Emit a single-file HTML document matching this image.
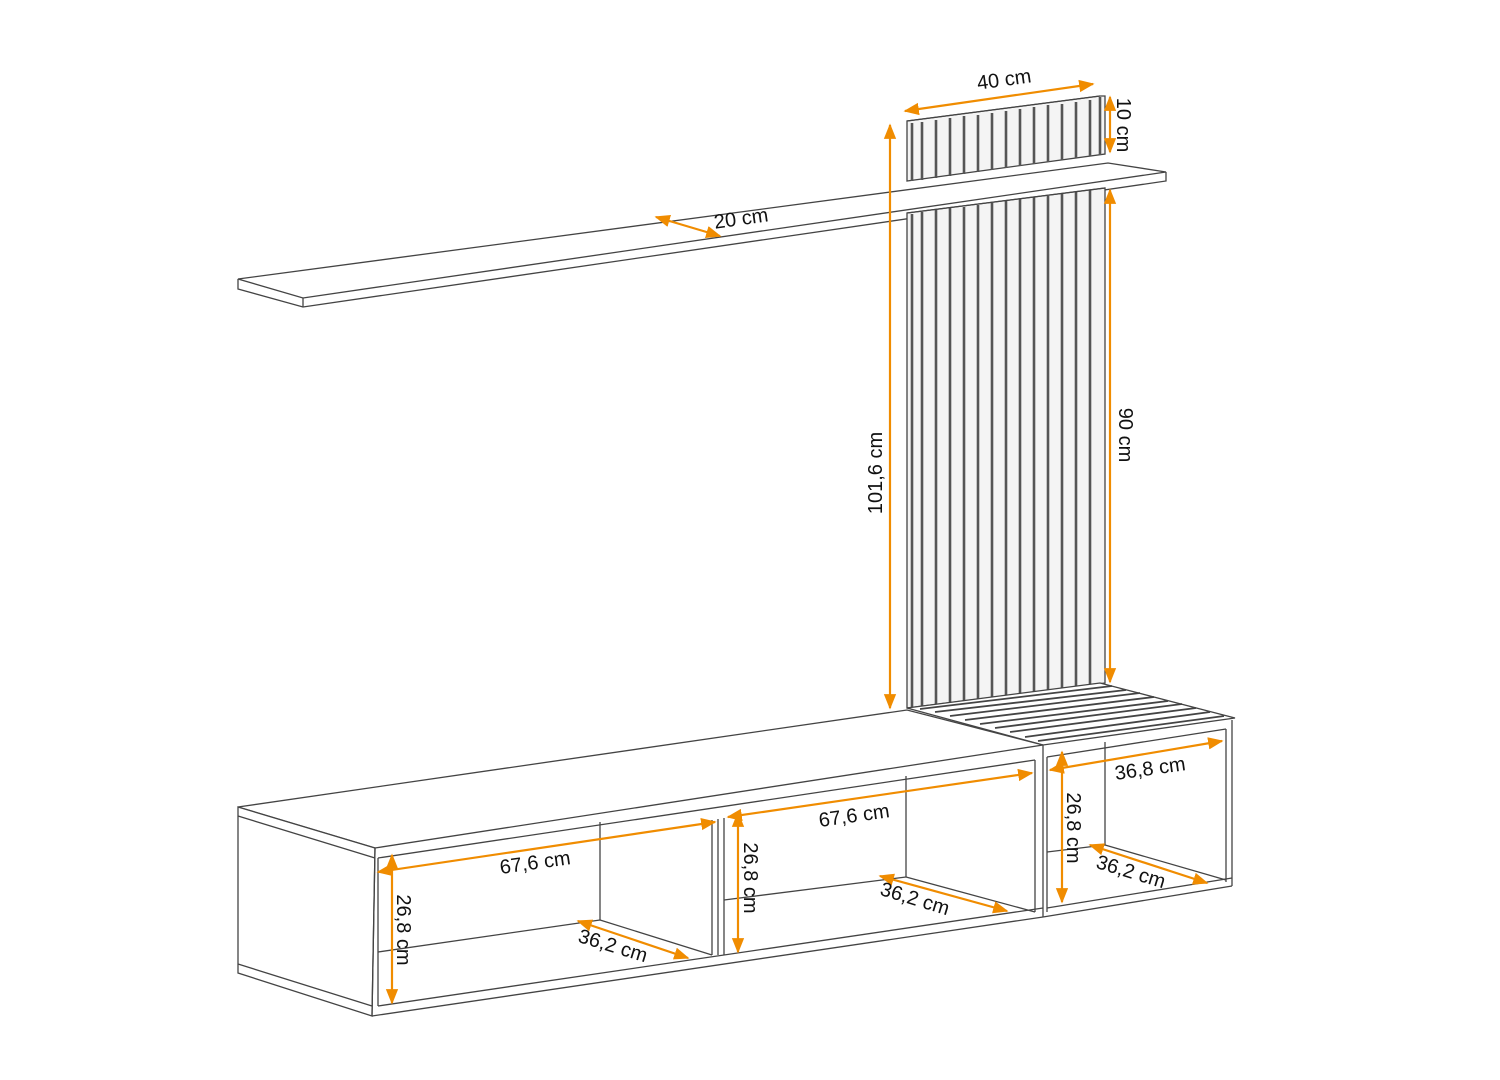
<!DOCTYPE html>
<html><head><meta charset="utf-8"><style>
html,body{margin:0;padding:0;background:#fff}
svg{display:block}
text{font-family:"Liberation Sans",sans-serif;font-size:20px;fill:#111}
</style></head><body>
<svg width="1500" height="1080" viewBox="0 0 1500 1080" xmlns="http://www.w3.org/2000/svg">
<defs>
<marker id="a" viewBox="0 0 10 10" refX="9" refY="5" markerWidth="7" markerHeight="7" orient="auto-start-reverse"><path d="M0,1 L10,5 L0,9 z" fill="#f08c00"/></marker>
</defs>
<g fill="none" stroke="#444" stroke-width="1.3">
<polygon points="238,279 1108,163 1166,172 303,298" fill="#fff"/>
<polyline points="238,279 238,289 303,307 1166,181 1166,172"/>
<line x1="303" y1="298" x2="303" y2="307"/>
<polygon points="907,121 1100,96 1105,96 1105,154 907,181" fill="#f4f4f4"/>
<polygon points="907,213 1105,188 1105,683 907,708" fill="#f4f4f4"/>
</g>
<g stroke="#555" stroke-width="2.6">
<line x1="912" y1="123" x2="912" y2="181"/><line x1="922" y1="122" x2="922" y2="180"/><line x1="936" y1="120" x2="936" y2="178"/><line x1="950" y1="118" x2="950" y2="176"/><line x1="964" y1="116" x2="964" y2="174"/><line x1="978" y1="115" x2="978" y2="172"/><line x1="992" y1="113" x2="992" y2="170"/><line x1="1006" y1="111" x2="1006" y2="168"/><line x1="1020" y1="109" x2="1020" y2="166"/><line x1="1034" y1="107" x2="1034" y2="164"/><line x1="1048" y1="105" x2="1048" y2="162"/><line x1="1062" y1="104" x2="1062" y2="160"/><line x1="1076" y1="102" x2="1076" y2="158"/><line x1="1090" y1="100" x2="1090" y2="156"/><line x1="1100" y1="97" x2="1100" y2="155"/>
<line x1="912" y1="214" x2="912" y2="708"/><line x1="922" y1="212" x2="922" y2="707"/><line x1="936" y1="210" x2="936" y2="705"/><line x1="950" y1="208" x2="950" y2="703"/><line x1="964" y1="207" x2="964" y2="701"/><line x1="978" y1="205" x2="978" y2="700"/><line x1="992" y1="203" x2="992" y2="698"/><line x1="1006" y1="201" x2="1006" y2="696"/><line x1="1020" y1="199" x2="1020" y2="694"/><line x1="1034" y1="197" x2="1034" y2="692"/><line x1="1048" y1="196" x2="1048" y2="690"/><line x1="1062" y1="194" x2="1062" y2="689"/><line x1="1076" y1="192" x2="1076" y2="687"/><line x1="1090" y1="190" x2="1090" y2="685"/>
</g>
<g fill="none" stroke="#444" stroke-width="1.3">
<line x1="907" y1="121" x2="1100" y2="96"/>
<line x1="907" y1="213" x2="1105" y2="188"/>
<polygon points="907,708 1100,683 1235,718 1043,745" fill="#fff"/>
<g stroke="#444" stroke-width="1.8">
<line x1="920" y1="709" x2="1112" y2="686"/><line x1="935" y1="712" x2="1126" y2="690"/><line x1="950" y1="716" x2="1140" y2="693"/><line x1="965" y1="720" x2="1154" y2="697"/><line x1="980" y1="724" x2="1168" y2="701"/><line x1="995" y1="728" x2="1182" y2="704"/><line x1="1010" y1="732" x2="1196" y2="708"/><line x1="1025" y1="737" x2="1210" y2="712"/><line x1="1038" y1="741" x2="1224" y2="716"/>
</g>
<polygon points="238,807 907,710 1043,745 375,848" fill="#fff"/>
<polygon points="238,807 238,973 372,1016 375,848" fill="#fff"/>
<line x1="238" y1="816" x2="375" y2="858"/>
<line x1="238" y1="964" x2="372" y2="1006"/>
<line x1="378" y1="858" x2="1035" y2="760"/>
<line x1="375" y1="848" x2="372" y2="1016"/>
<line x1="372" y1="1016" x2="1043" y2="917"/>
<line x1="378" y1="1006" x2="1043" y2="908"/>
<line x1="378" y1="858" x2="378" y2="1006"/>
<line x1="600" y1="822" x2="600" y2="920"/>
<line x1="378" y1="952" x2="600" y2="920"/>
<line x1="600" y1="920" x2="712" y2="955"/>
<line x1="712" y1="820" x2="712" y2="955"/><line x1="718" y1="819" x2="718" y2="955"/><line x1="724" y1="818" x2="724" y2="955"/>
<line x1="906" y1="776" x2="906" y2="877"/>
<line x1="724" y1="900" x2="906" y2="877"/>
<line x1="906" y1="877" x2="1035" y2="912"/>
<line x1="1035" y1="760" x2="1035" y2="912"/>
<line x1="1043" y1="745" x2="1043" y2="917"/>
<line x1="1047" y1="757" x2="1047" y2="912"/>
<line x1="1047" y1="757" x2="1226" y2="729"/>
<line x1="1226" y1="729" x2="1226" y2="882"/>
<line x1="1232" y1="720" x2="1232" y2="886"/>
<line x1="1043" y1="917" x2="1232" y2="886"/>
<line x1="1047" y1="908" x2="1232" y2="878"/>
<line x1="1105" y1="742" x2="1105" y2="845"/>
<line x1="1047" y1="852" x2="1105" y2="845"/>
<line x1="1105" y1="845" x2="1226" y2="880"/>
</g>
<g stroke="#f08c00" stroke-width="2.2" fill="none" marker-start="url(#a)" marker-end="url(#a)">
<line x1="905" y1="111" x2="1093" y2="84"/>
<line x1="1110" y1="97" x2="1110" y2="152"/>
<line x1="656" y1="217" x2="720" y2="236"/>
<line x1="890" y1="125" x2="890" y2="708"/>
<line x1="1110" y1="190" x2="1110" y2="682"/>
<line x1="378" y1="872" x2="715" y2="822"/>
<line x1="392" y1="855" x2="392" y2="1003"/>
<line x1="578" y1="921" x2="688" y2="958"/>
<line x1="728" y1="817" x2="1032" y2="773"/>
<line x1="738" y1="813" x2="738" y2="952"/>
<line x1="880" y1="876" x2="1007" y2="911"/>
<line x1="1050" y1="770" x2="1222" y2="741"/>
<line x1="1062" y1="752" x2="1062" y2="902"/>
<line x1="1090" y1="845" x2="1207" y2="883"/>
</g>
<g text-anchor="middle">
<text transform="translate(1005,86) rotate(-8)">40 cm</text>
<text transform="translate(1117,125) rotate(90)">10 cm</text>
<text transform="translate(742,225) rotate(-8)">20 cm</text>
<text transform="translate(882,473) rotate(-90)">101,6 cm</text>
<text transform="translate(1119,435) rotate(90)">90 cm</text>
<text transform="translate(536,869) rotate(-8)">67,6 cm</text>
<text transform="translate(397,930) rotate(90)">26,8 cm</text>
<text transform="translate(611,952) rotate(17)">36,2 cm</text>
<text transform="translate(855,822) rotate(-8)">67,6 cm</text>
<text transform="translate(744,878) rotate(90)">26,8 cm</text>
<text transform="translate(913,905) rotate(17)">36,2 cm</text>
<text transform="translate(1151,775) rotate(-8)">36,8 cm</text>
<text transform="translate(1067,828) rotate(90)">26,8 cm</text>
<text transform="translate(1129,878) rotate(17)">36,2 cm</text>
</g>
</svg>
</body></html>
